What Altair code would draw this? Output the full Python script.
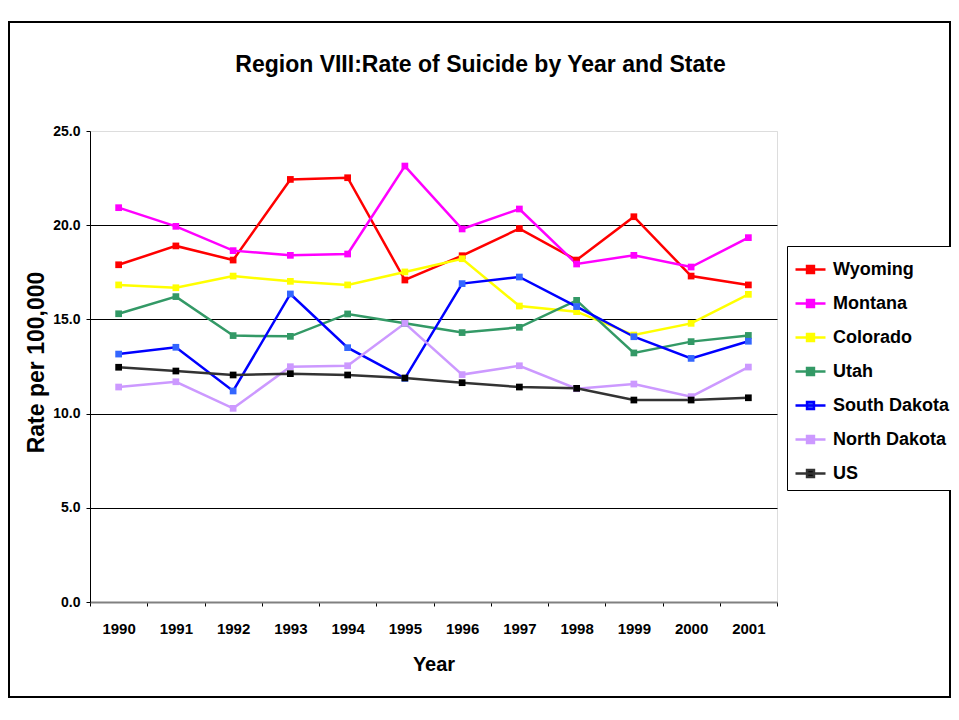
import altair as alt
import pandas as pd

years = [str(y) for y in range(1990, 2002)]
states = ["Wyoming", "Montana", "Colorado", "Utah", "South Dakota", "North Dakota", "US"]
wyoming = [17.90, 18.90, 18.15, 22.43, 22.52, 17.09, 18.38, 19.82, 18.15, 20.45, 17.30, 16.83]
montana = [20.93, 19.94, 18.65, 18.40, 18.47, 23.14, 19.80, 20.86, 17.94, 18.40, 17.78, 19.34]
colorado = [16.83, 16.68, 17.30, 17.02, 16.83, 17.52, 18.22, 15.71, 15.41, 14.17, 14.79, 16.33]
utah = [15.30, 16.21, 14.14, 14.10, 15.29, 14.79, 14.30, 14.58, 16.01, 13.22, 13.82, 14.15]
south_dakota = [13.16, 13.52, 11.20, 16.35, 13.50, 11.87, 16.90, 17.25, 15.68, 14.08, 12.93, 13.84]
north_dakota = [11.41, 11.69, 10.28, 12.49, 12.54, 14.79, 12.07, 12.54, 11.32, 11.57, 10.90, 12.47]
us = [12.46, 12.26, 12.05, 12.12, 12.05, 11.89, 11.64, 11.41, 11.34, 10.72, 10.72, 10.84]
line_colors = ["#FF0000", "#FF00FF", "#FFFF00", "#339966", "#0000FF", "#CC99FF", "#333333"]
marker_colors = ["#FF0000", "#FF00FF", "#FFFF00", "#339966", "#3366FF", "#CC99FF", "#000000"]

series = [wyoming, montana, colorado, utah, south_dakota, north_dakota, us]
rows = []
for s, vals in zip(states, series):
    for yr, v in zip(years, vals):
        rows.append({"State": s, "Year": yr, "Rate": v})
df = pd.DataFrame(rows)

FONT = "Liberation Sans, Arial, sans-serif"

x = alt.X(
    "Year:O",
    sort=years,
    scale=alt.Scale(type="band", paddingInner=0, paddingOuter=0),
    axis=alt.Axis(
        title="Year", labelAngle=0, tickBand="extent", tickSize=4, tickColor="black",
        domainColor="#808080", domainWidth=2, labelPadding=15,
        labelFont=FONT, labelFontSize=15, labelFontWeight="bold", labelColor="black",
        titleFont=FONT, titleFontSize=20, titleFontWeight="bold", titleColor="black",
        titleY=62, titleBaseline="middle", grid=False,
    ),
)
grid_color = {
    "condition": [
        {"test": "datum.value == 25", "value": "#dddddd"},
        {"test": "datum.value == 0", "value": "transparent"},
    ],
    "value": "#000000",
}
y = alt.Y(
    "Rate:Q",
    scale=alt.Scale(domain=[0, 25]),
    axis=alt.Axis(
        title="Rate per 100,000", values=[0, 5, 10, 15, 20, 25], format=".1f",
        tickSize=4, tickColor="black", domainColor="black", domainWidth=1, labelPadding=6,
        labelFont=FONT, labelFontSize=14, labelFontWeight="bold", labelColor="black",
        titleFont=FONT, titleFontSize=23, titleFontWeight="bold", titleColor="black",
        titleX=-54, titleY=231, titleBaseline="middle", titleAngle=270,
        grid=True, gridColor=grid_color, gridWidth=1,
    ),
)

legend_symbol = "M-1,0L1,0M-0.23,-0.23L0.23,-0.23L0.23,0.23L-0.23,0.23Z"

lines = alt.Chart(df).mark_line(strokeWidth=2.5).encode(
    x=x, y=y,
    color=alt.Color(
        "State:N", sort=states,
        scale=alt.Scale(domain=states, range=line_colors),
        legend=alt.Legend(
            title=None, orient="none", legendX=697, legendY=115,
            symbolType=legend_symbol, symbolSize=900, symbolStrokeWidth=2.5,
            labelFont=FONT, labelFontSize=18, labelFontWeight="bold", labelColor="black",
            labelOffset=6, rowPadding=8, padding=7,
            strokeColor="black", fillColor="white",
        ),
    ),
)
points = alt.Chart(df).mark_square(size=45, opacity=1).encode(
    x=x, y=y,
    fill=alt.Fill("State:N", sort=states, scale=alt.Scale(domain=states, range=marker_colors), legend=None),
)

frame = alt.Chart(pd.DataFrame({"f": [0]})).mark_rect(
    fill="transparent", stroke="black", strokeWidth=2
).encode(x=alt.value(-81), x2=alt.value(860), y=alt.value(-109), y2=alt.value(566))

chart = alt.layer(frame, lines, points).properties(
    width=687, height=471,
    title=alt.TitleParams(
        "Region VIII:Rate of Suicide by Year and State",
        font=FONT, fontSize=23, fontWeight="bold", color="black",
        anchor="middle", dx=47, offset=-74, baseline="alphabetic",
    ),
    autosize=alt.AutoSizeParams(type="none"),
    padding={"left": 82, "top": 123, "right": 174, "bottom": 110},
).configure_view(stroke=None).configure(background="white")

chart.save("out.html", embed_options={"renderer": "svg", "actions": False})
